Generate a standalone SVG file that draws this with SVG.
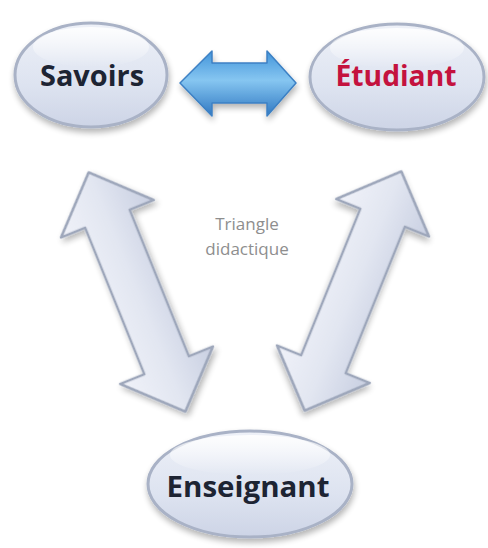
<svg xmlns="http://www.w3.org/2000/svg" width="488" height="548" viewBox="0 0 488 548">
<style>
.lbl{font-family:"Open Sans","Noto Sans","DejaVu Sans",sans-serif;font-weight:700;font-size:29px;text-anchor:middle;fill:#1d2433}
.red{fill:#c4123e}
.note{font-family:"Open Sans","Noto Sans","DejaVu Sans",sans-serif;font-size:17px;text-anchor:middle;fill:#8e8e8e}
.node{fill:url(#gNode);stroke:#a9b2c6;stroke-width:3;filter:url(#shadow)}
.gloss{fill:url(#gGloss)}
.garrow{fill:url(#gGray);stroke:#9ea7bb;stroke-width:2.5;stroke-linejoin:round;filter:url(#shadow)}
.barrow{fill:url(#gBlue);stroke:#3c80c4;stroke-width:1.5;stroke-linejoin:round;filter:url(#shadow)}
</style>
<defs>
<linearGradient id="gNode" x1="0" y1="0" x2="0" y2="1">
<stop offset="0" stop-color="#eef1f8"/>
<stop offset="0.6" stop-color="#dde3f0"/>
<stop offset="1" stop-color="#cdd4e6"/>
</linearGradient>
<linearGradient id="gGloss" x1="0" y1="0" x2="0" y2="1">
<stop offset="0" stop-color="#ffffff" stop-opacity="0.9"/>
<stop offset="1" stop-color="#ffffff" stop-opacity="0"/>
</linearGradient>
<linearGradient id="gGray" x1="0" y1="0" x2="1" y2="0">
<stop offset="0" stop-color="#f0f2f9"/>
<stop offset="0.5" stop-color="#e2e6f1"/>
<stop offset="1" stop-color="#c8cfe1"/>
</linearGradient>
<linearGradient id="gBlue" x1="0" y1="0" x2="0" y2="1">
<stop offset="0" stop-color="#4294da"/>
<stop offset="0.45" stop-color="#86c6f1"/>
<stop offset="1" stop-color="#3078c2"/>
</linearGradient>
<filter id="shadow" x="-20%" y="-20%" width="140%" height="150%">
<feGaussianBlur in="SourceAlpha" stdDeviation="3"/>
<feOffset dx="1" dy="4" result="b"/>
<feComponentTransfer><feFuncA type="linear" slope="0.3"/></feComponentTransfer>
<feMerge><feMergeNode/><feMergeNode in="SourceGraphic"/></feMerge>
</filter>
</defs>
<rect width="488" height="548" fill="#ffffff"/>
<g id="connectors">
<polygon id="arrow-savoirs-etudiant" class="barrow" points="180,83 212,51 212,63 267,63 267,51 296,83 267,116 267,103 212,103 212,116"/>
<polygon id="arrow-savoirs-enseignant" class="garrow" transform="translate(137,292) rotate(-22)" points="0,-129 50,-79 24,-79 24,79 50,79 0,129 -50,79 -24,79 -24,-79 -50,-79"/>
<polygon id="arrow-etudiant-enseignant" class="garrow" transform="translate(353,291) rotate(22)" points="0,-129 50,-79 24,-79 24,79 50,79 0,129 -50,79 -24,79 -24,-79 -50,-79"/>
</g>
<g id="node-savoirs">
<ellipse class="node" cx="91" cy="75" rx="76" ry="52"/>
<ellipse class="gloss" cx="91" cy="47" rx="58" ry="20"/>
<text class="lbl" x="92" y="86" textLength="104" lengthAdjust="spacingAndGlyphs">Savoirs</text>
</g>
<g id="node-etudiant">
<ellipse class="node" cx="397" cy="77" rx="87" ry="53"/>
<ellipse class="gloss" cx="397" cy="48" rx="67" ry="20"/>
<text class="lbl red" x="396" y="86" textLength="121" lengthAdjust="spacingAndGlyphs">Étudiant</text>
</g>
<g id="node-enseignant">
<ellipse class="node" cx="250" cy="484" rx="102" ry="53"/>
<ellipse class="gloss" cx="250" cy="455" rx="80" ry="20"/>
<text class="lbl" x="248" y="497" textLength="163" lengthAdjust="spacingAndGlyphs">Enseignant</text>
</g>
<g id="label-triangle">
<text class="note" x="247" y="230">Triangle</text>
<text class="note" x="247" y="255">didactique</text>
</g>
</svg>
